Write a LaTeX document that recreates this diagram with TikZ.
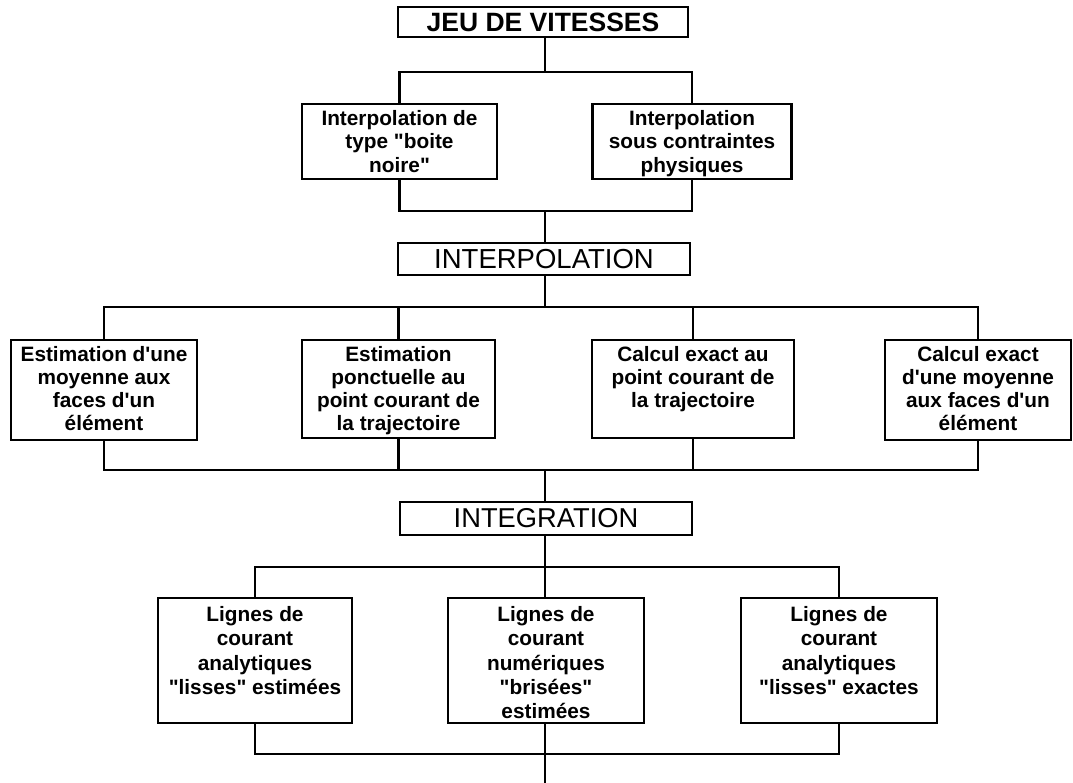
\documentclass[tikz,border=0pt]{standalone}
\usepackage{fontspec}
\setmainfont{Liberation Sans}[Ligatures=TeXOff]
\newcommand{\bxt}[5]{\parbox[c][#2pt][t]{#1pt}{\centering\fontsize{20.8}{#3}\selectfont\bfseries\rule{0pt}{#4pt}#5}}
\begin{document}
\begin{tikzpicture}[x=1pt,y=-1pt,line width=2.5pt,line join=miter,
  title/.style={draw,inner sep=0pt,minimum height=#1},
  tbox/.style={draw,inner sep=0pt}]
\useasboundingbox (0,0) rectangle (1073,783);
% title boxes
\node[title=30pt,minimum width=290pt,font=\fontsize{26.5}{28}\selectfont\bfseries] (top) at (543,22) {JEU DE VITESSES};
\node[title=32pt,minimum width=292pt,font=\fontsize{27.5}{28}\selectfont] (interp) at (544,259) {INTERPOLATION};
\node[title=33pt,minimum width=292pt,font=\fontsize{27.3}{28}\selectfont] (integ) at (546,518.5) {INTEGRATION};
% row 2
\node[tbox] (b1) at (399.5,141.5) {\bxt{195}{75}{23.5}{21.5}{Interpolation de\\type "boite\\noire"}};
\node[tbox] (b2) at (692,141.5) {\bxt{199}{75}{23.5}{21.5}{Interpolation\\sous contraintes\\physiques}};
% row 3
\node[tbox] (a) at (104,390) {\bxt{186}{100}{23.3}{21}{Estimation d'une\\moyenne aux\\faces d'un\\élément}};
\node[tbox] (b) at (398.5,389) {\bxt{193}{98}{23.3}{21}{Estimation\\ponctuelle au\\point courant de\\la trajectoire}};
\node[tbox] (c) at (693,389) {\bxt{202}{98}{23.3}{21}{Calcul exact au\\point courant de\\la trajectoire}};
\node[tbox] (d) at (978,390) {\bxt{186}{100}{23.3}{21}{Calcul exact\\d'une moyenne\\aux faces d'un\\élément}};
% row 4
\node[tbox] (e) at (255,660.5) {\bxt{194}{125}{24.3}{23.5}{Lignes de\\courant\\analytiques\\"lisses" estimées}};
\node[tbox] (f) at (546,660.5) {\bxt{196}{125}{24.3}{23.5}{Lignes de\\courant\\numériques\\"brisées"\\estimées}};
\node[tbox] (g) at (839,660.5) {\bxt{196}{125}{24.3}{23.5}{Lignes de\\courant\\analytiques\\"lisses" exactes}};
% junctions
\coordinate (j1) at (545,72);
\coordinate (j2) at (545,211);
\coordinate (j3) at (545,307);
\coordinate (j4) at (545,470);
\coordinate (j5) at (545,567);
\coordinate (j6) at (545,754);
\coordinate (fin) at (545,783);
% connectors
\draw (top.south -| j1) -- (j1);
\draw (b1.north) |- (j1) -| (b2.north);
\draw (b1.south) |- (j2) -| (b2.south);
\draw (j2) -- (interp.north -| j2);
\draw (interp.south -| j3) -- (j3);
\draw (a.north) |- (j3) -| (d.north);
\draw (b.north) -- (b.north |- j3);
\draw (c.north) -- (c.north |- j3);
\draw (a.south) |- (j4) -| (d.south);
\draw (b.south) -- (b.south |- j4);
\draw (c.south) -- (c.south |- j4);
\draw (j4) -- (integ.north -| j4);
\draw (integ.south -| j5) -- (j5);
\draw (e.north) |- (j5) -| (g.north);
\draw (f.north -| j5) -- (j5);
\draw (e.south) |- (j6) -| (g.south);
\draw (f.south -| j6) -- (j6);
\draw (j6) -- (fin);
\end{tikzpicture}
\end{document}
